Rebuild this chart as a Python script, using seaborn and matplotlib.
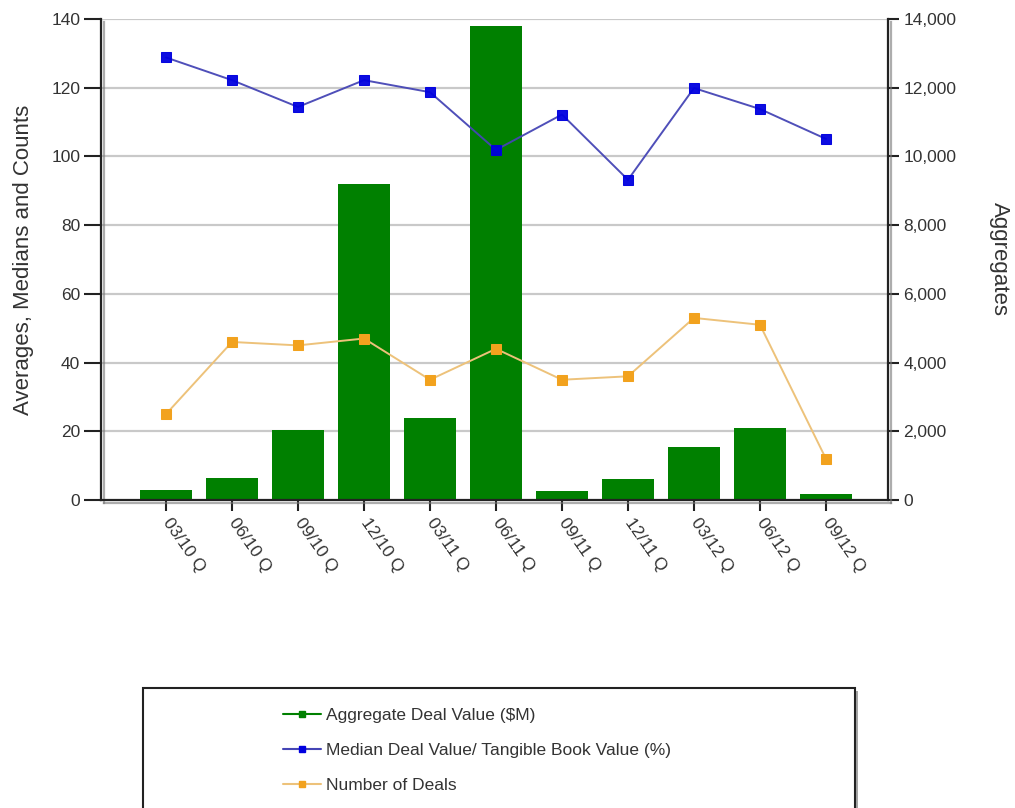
import numpy as np
import pandas as pd
import matplotlib
matplotlib.use("Agg")
import matplotlib.pyplot as plt
import matplotlib.patheffects as pe
from matplotlib.patches import Rectangle
from matplotlib.lines import Line2D
from matplotlib.ticker import FuncFormatter, MultipleLocator
import seaborn as sns

# Quarterly bank M&A statistics
quarters = ["03/10 Q", "06/10 Q", "09/10 Q", "12/10 Q", "03/11 Q", "06/11 Q",
            "09/11 Q", "12/11 Q", "03/12 Q", "06/12 Q", "09/12 Q"]
aggregate_deal_value = [300, 650, 2050, 9200, 2400, 13800, 250, 600, 1550, 2100, 180]
median_deal_to_tbv = [128.8, 122.2, 114.4, 122.2, 118.7, 101.9, 112.2, 93.2, 119.9, 113.8, 105.1]
number_of_deals = [25, 46, 45, 47, 35, 44, 35, 36, 53, 51, 12]

label_agg = "Aggregate Deal Value ($M)"
label_med = "Median Deal Value/ Tangible Book Value (%)"
label_cnt = "Number of Deals"

df = pd.DataFrame({
    "quarter": quarters,
    "pos": np.arange(len(quarters)),
    "agg": aggregate_deal_value,
    "med": median_deal_to_tbv,
    "cnt": number_of_deals,
})

sns.set_theme(style="white")
plt.rcParams["font.family"] = ["Liberation Sans", "DejaVu Sans"]

GREEN = "#008000"
BLUE_M = "#0000E0"
BLUE_L = "#4545B5"
ORANGE_M = "#F2A21E"
ORANGE_L = "#EDC27A"
TXT = "#333333"

fig = plt.figure(figsize=(10.15, 8.08), dpi=100)
ax = fig.add_axes([101 / 1015, 1 - 500 / 808, 787 / 1015, 481 / 808])
ax_r = ax.twinx()

# Bars on the right-hand (aggregate) scale
sns.barplot(data=df, x="pos", y="agg", ax=ax_r, color=GREEN, saturation=1,
            width=0.78, native_scale=True, errorbar=None, edgecolor="none")

# Lines on the left-hand scale, drawn above the bars
ax.set_zorder(ax_r.get_zorder() + 1)
ax.patch.set_visible(False)
sns.lineplot(data=df, x="pos", y="med", ax=ax, color=BLUE_L, linewidth=1.4,
             marker="s", markersize=6.5, markerfacecolor=BLUE_M,
             markeredgecolor=BLUE_M, alpha=0.95)
sns.lineplot(data=df, x="pos", y="cnt", ax=ax, color=ORANGE_L, linewidth=1.4,
             marker="s", markersize=6.5, markerfacecolor=ORANGE_M,
             markeredgecolor=ORANGE_M)

ax.set_ylim(0, 140)
ax_r.set_ylim(0, 14000)
ax.set_xlim(-0.985, 10.94)
ax_r.set_xlim(-0.985, 10.94)

# Horizontal gridlines (drawn on the bar axes so they sit behind the bars)
for v in range(20, 141, 20):
    ax_r.axhline(v * 100, color="#c9c9c9", linewidth=1.6, zorder=0)
ax_r.set_axisbelow(True)

ax.yaxis.set_major_locator(MultipleLocator(20))
ax_r.yaxis.set_major_locator(MultipleLocator(2000))
ax_r.yaxis.set_major_formatter(FuncFormatter(lambda v, p: f"{int(v):,}"))

ax.set_xticks(df["pos"])
ax.set_xticklabels(quarters, rotation=-55, rotation_mode="anchor",
                   ha="left", va="center", fontsize=12.5, color=TXT)
ax_r.tick_params(axis="x", bottom=False, labelbottom=False)
ax.tick_params(axis="x", bottom=True, length=8, width=1.5, color="#222222", pad=6)
ax.tick_params(axis="y", left=True, length=12, width=1.5, color="#222222",
               labelsize=12.5, labelcolor=TXT, pad=3)
ax_r.tick_params(axis="y", right=True, length=8, width=1.5, color="#222222",
                 labelsize=12.5, labelcolor=TXT, pad=3)

ax.set_xlabel("")
ax_r.set_xlabel("")
ax.set_ylabel("Averages, Medians and Counts", fontsize=16, color=TXT, labelpad=12)
ax_r.set_ylabel("Aggregates", fontsize=16, color=TXT, rotation=270,
                va="center", ha="center")
ax_r.yaxis.set_label_coords(1.142, 0.5)

shadow = [pe.SimpleLineShadow(offset=(2.5, -2.5), shadow_color="#777777", alpha=0.6),
          pe.Normal()]
for a in (ax, ax_r):
    a.spines["top"].set_visible(False)
    for s in ("left", "right", "bottom"):
        a.spines[s].set_color("#222222")
        a.spines[s].set_linewidth(1.6)
        a.spines[s].set_path_effects(shadow)
ax.spines["right"].set_visible(False)
ax_r.spines["left"].set_visible(False)
ax_r.spines["bottom"].set_visible(False)

# Legend box below the plot
box = Rectangle((143 / 1015, -0.02), 712 / 1015, 0.02 + 120 / 808,
                transform=fig.transFigure, facecolor="white",
                edgecolor="#222222", linewidth=1.5, zorder=1,
                path_effects=[pe.SimplePatchShadow(offset=(2, -2), alpha=0.5),
                              pe.Normal()])
fig.patches.append(box)

handles = [
    Line2D([], [], color=GREEN, linewidth=1.5, marker="s", markersize=5,
           markerfacecolor=GREEN, markeredgecolor=GREEN),
    Line2D([], [], color=BLUE_L, linewidth=1.5, marker="s", markersize=5,
           markerfacecolor=BLUE_M, markeredgecolor=BLUE_M),
    Line2D([], [], color=ORANGE_L, linewidth=1.5, marker="s", markersize=5,
           markerfacecolor=ORANGE_M, markeredgecolor=ORANGE_M),
]
leg = fig.legend(handles, [label_agg, label_med, label_cnt], loc="upper left",
                 bbox_to_anchor=(283 / 1015, 1 - 708 / 808), frameon=False,
                 fontsize=12.5, handlelength=2.2, handletextpad=0.3,
                 labelspacing=1.15, borderaxespad=0, borderpad=0)
for t in leg.get_texts():
    t.set_color(TXT)

fig.savefig("out.png", dpi=100, facecolor="white")
